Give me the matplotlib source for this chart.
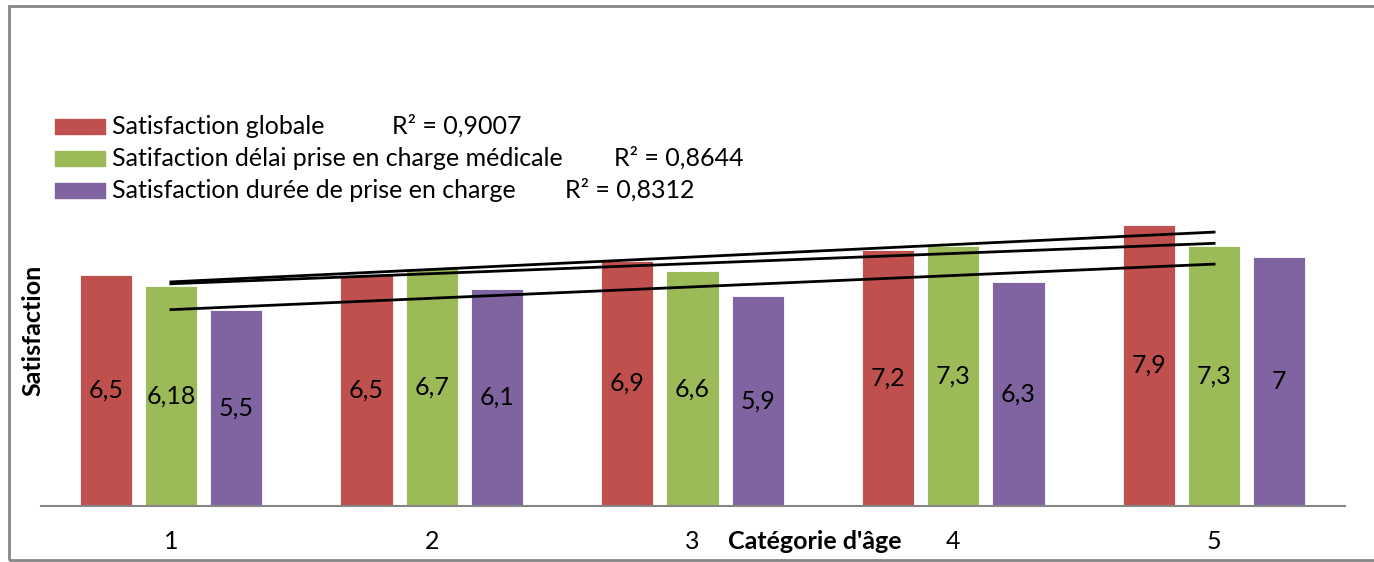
import matplotlib.pyplot as plt
import numpy as np
from matplotlib.patches import Rectangle

# Data: satisfaction by age category
categories = [1, 2, 3, 4, 5]
series_names = ["Satisfaction globale",
                "Satifaction délai prise en charge médicale",
                "Satisfaction durée de prise en charge"]
globale = [6.5, 6.5, 6.9, 7.2, 7.9]
delai = [6.18, 6.7, 6.6, 7.3, 7.3]
duree = [5.5, 6.1, 5.9, 6.3, 7]
colors = ["#C0504D", "#9BBB59", "#8064A2"]

W, H = 1374, 562
plt.rcParams['font.family'] = ['Lato', 'DejaVu Sans']
fig = plt.figure(figsize=(W / 100, H / 100), dpi=100)

def px(x, y):
    # pixel position (from top-left) -> figure fraction
    return x / W, 1 - y / H

# chart border (left, top, bottom)
fig.patches.append(Rectangle(px(9, 560), (1400 - 9) / W, (560 - 6) / H,
                             transform=fig.transFigure, fill=False,
                             edgecolor="#868686", linewidth=2))

ax = fig.add_axes([40.5 / W, 1 - 506 / H, 1304 / W, 498 / H])
ax.set_xlim(0.5, 5.5)
ax.set_ylim(0, 14)

x = np.array(categories, dtype=float)
fs = 18
for i, (vals, c) in enumerate(zip([globale, delai, duree], colors)):
    pos = x + (i - 1) * 0.25
    ax.bar(pos, vals, width=0.2, color=c, edgecolor="white", linewidth=0.6)
    for xp, v in zip(pos, vals):
        ax.text(xp, v / 2, f"{v:g}".replace(".", ","), ha="center", va="center",
                fontsize=fs)

# linear trend lines
r2 = []
for vals in [globale, delai, duree]:
    y = np.array(vals)
    a, b = np.polyfit(x, y, 1)
    fit = a * x + b
    r2.append(1 - np.sum((y - fit) ** 2) / np.sum((y - y.mean()) ** 2))
    ax.plot([x[0], x[-1]], [fit[0], fit[-1]], color="black", linewidth=2)

for s in ["left", "top", "right"]:
    ax.spines[s].set_visible(False)
ax.spines["bottom"].set_color("#868686")
ax.spines["bottom"].set_linewidth(1.5)
ax.set_yticks([])
ax.set_xticks(categories)
ax.set_xticklabels([str(c) for c in categories], fontsize=fs)
ax.tick_params(axis="x", length=0, pad=17)

ax.set_xlabel("Catégorie d'âge", fontsize=fs, fontweight="bold")
ax.xaxis.set_label_coords(0.594, -0.072)
ax.xaxis.label.set_va("center")
ax.set_ylabel("Satisfaction", fontsize=fs, fontweight="bold")
ax.yaxis.set_label_coords(-0.006, 0.353)
ax.yaxis.label.set_va("center")

# legend with R² values
rows_y = [126, 158, 190]
r2_x = [392, 614, 565]
for name, c, yy, rx, r in zip(series_names, colors, rows_y, r2_x, r2):
    fig.patches.append(Rectangle(px(55, yy + 7.5), 50 / W, 15 / H,
                                 transform=fig.transFigure, color=c))
    fig.text(*px(112, yy), name, fontsize=fs, va="center", ha="left")
    fig.text(*px(rx, yy), f"R² = {r:.4f}".replace(".", ","),
             fontsize=fs, va="center", ha="left")

fig.savefig("out.png", dpi=100)
